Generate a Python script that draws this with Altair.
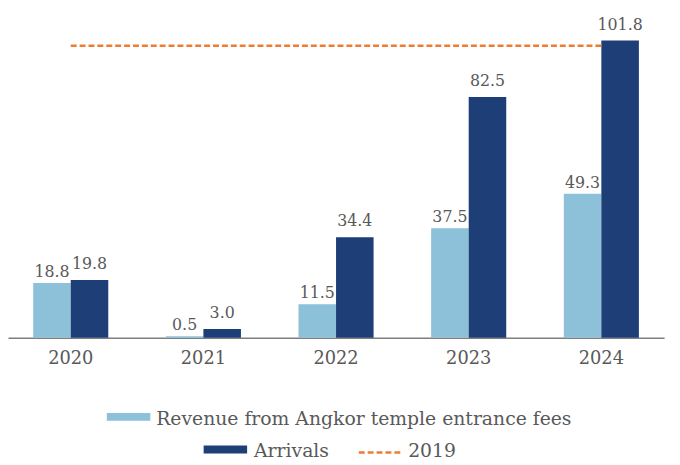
import altair as alt
import pandas as pd

years = ["2020", "2021", "2022", "2023", "2024"]
revenue = [18.8, 0.5, 11.5, 37.5, 49.3]
arrivals = [19.8, 3.0, 34.4, 82.5, 101.8]
level_2019 = 100
series_names = ["Revenue from Angkor temple entrance fees", "Arrivals"]
line_name = "2019"

LIGHT = "#8DC0D9"
DARK = "#1D3E76"
ORANGE = "#ED7D31"
TEXT = "#595959"
FONT = "DejaVu Serif"

rows = []
for y, r, a in zip(years, revenue, arrivals):
    rows.append({"year": y, "series": series_names[0], "value": r})
    rows.append({"year": y, "series": series_names[1], "value": a})
df = pd.DataFrame(rows)

x_enc = alt.X("year:N", sort=years, title=None,
              scale=alt.Scale(paddingInner=0.434, paddingOuter=0.19),
              axis=alt.Axis(labelAngle=0, labelFontSize=18, labelFont=FONT,
                            labelColor=TEXT, ticks=False, domainColor="#7F7F7F",
                            domainWidth=1.5, labelPadding=12, grid=False))
xo_enc = alt.XOffset("series:N", sort=series_names,
                     scale=alt.Scale(paddingInner=0, paddingOuter=0))
y_scale = alt.Scale(domain=[0, 110], nice=False)

bars = alt.Chart(df).mark_bar().encode(
    x=x_enc,
    xOffset=xo_enc,
    y=alt.Y("value:Q", scale=y_scale, axis=None),
    color=alt.Color("series:N", sort=series_names,
                    scale=alt.Scale(domain=series_names, range=[LIGHT, DARK]),
                    legend=None),
)


def value_labels(series, dy):
    return alt.Chart(df).transform_filter(
        alt.datum.series == series
    ).mark_text(
        baseline="alphabetic", dy=dy, fontSize=16, font=FONT, color=TEXT
    ).encode(
        x=alt.X("year:N", sort=years),
        xOffset=xo_enc,
        y=alt.Y("value:Q", scale=y_scale),
        text=alt.Text("value:Q", format=".1f"),
    )


labels_rev = value_labels(series_names[0], -6)
labels_arr = value_labels(series_names[1], -11)

line_df = pd.DataFrame({"start": [years[0]], "end": [years[-1]], "level": [level_2019]})
dash = alt.Chart(line_df).mark_rule(
    color=ORANGE, strokeWidth=2.5, strokeDash=[6, 3]
).encode(
    x=alt.X("start:N", sort=years),
    x2="end:N",
    y=alt.Y("level:Q", scale=y_scale),
)

# Custom legend (pixel positions relative to plot origin)
leg_rev_sw = alt.Chart(line_df).mark_rect(color=LIGHT).encode(
    x=alt.value(100), x2=alt.value(144), y=alt.value(401), y2=alt.value(409))
leg_rev_tx = alt.Chart(line_df).mark_text(
    align="left", baseline="middle", fontSize=19, font=FONT, color=TEXT,
    text=series_names[0]).encode(x=alt.value(150), y=alt.value(407))
leg_arr_sw = alt.Chart(line_df).mark_rect(color=DARK).encode(
    x=alt.value(198), x2=alt.value(242), y=alt.value(434), y2=alt.value(442))
leg_arr_tx = alt.Chart(line_df).mark_text(
    align="left", baseline="middle", fontSize=19, font=FONT, color=TEXT,
    text=series_names[1]).encode(x=alt.value(249), y=alt.value(440))
leg_line = alt.Chart(line_df).mark_rule(
    color=ORANGE, strokeWidth=2.5, strokeDash=[6, 3]).encode(
    x=alt.value(355), x2=alt.value(400), y=alt.value(441))
leg_line_tx = alt.Chart(line_df).mark_text(
    align="left", baseline="middle", fontSize=19, font=FONT, color=TEXT,
    text=line_name).encode(x=alt.value(405), y=alt.value(440))

chart = alt.layer(
    bars, labels_rev, labels_arr, dash,
    leg_rev_sw, leg_rev_tx, leg_arr_sw, leg_arr_tx, leg_line, leg_line_tx
).properties(
    width=664, height=325,
    background="white",
    autosize=alt.AutoSizeParams(type="none"),
    padding={"left": 0, "top": 6, "right": 8, "bottom": 126},
).configure_view(stroke=None, strokeWidth=0)

chart.save("out.html", embed_options={"renderer": "svg", "actions": False})
